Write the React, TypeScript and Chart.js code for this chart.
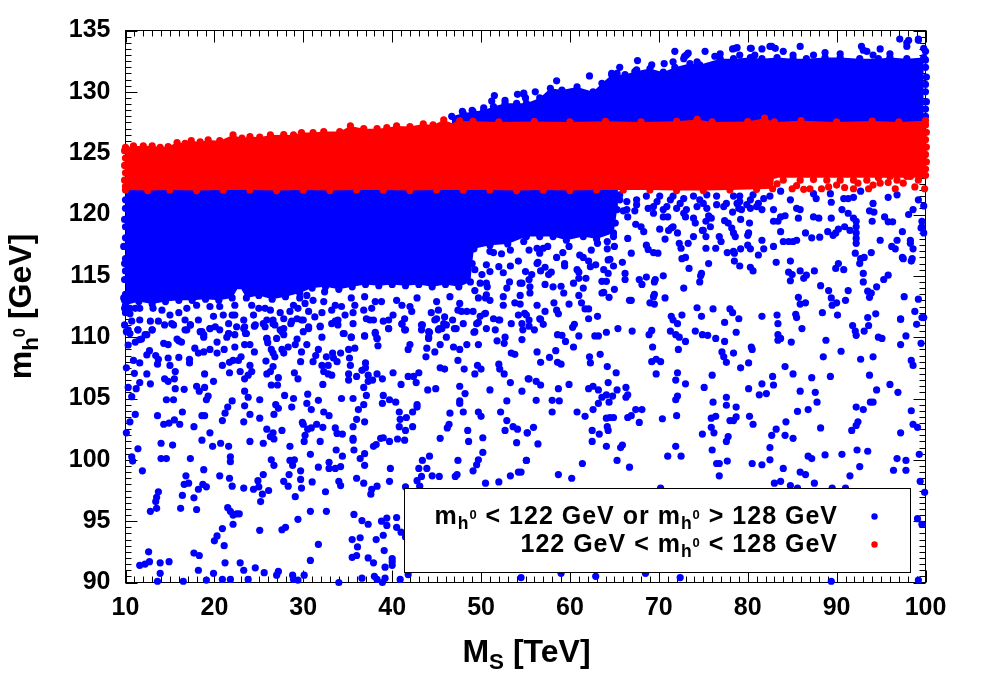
import React, { useEffect, useRef } from "react";
import { Chart, registerables } from "chart.js";

Chart.register(...registerables);

type P = [number, number];
type Seg = [string, "n" | "sub" | "sup"];

const xRange: P = [10, 100];
const yRange: P = [90, 135];

const xAxisLabel: Seg[] = [["M", "n"], ["S", "sub"], [" [TeV]", "n"]];
const yAxisLabel: Seg[] = [["m", "n"], ["h", "sub"], ["0", "sup"], [" [GeV]", "n"]];
const legendBlue: Seg[] = [["m", "n"], ["h", "sub"], ["0", "sup"], [" < 122 GeV or m", "n"], ["h", "sub"], ["0", "sup"], [" > 128 GeV", "n"]];
const legendRed: Seg[] = [["122 GeV < m", "n"], ["h", "sub"], ["0", "sup"], [" < 128 GeV", "n"]];

const blueBottomLeft: P[] = [[10.1,110.45],[10.3,109.36],[10.9,108.1],[10.1,107.5],[11.0,107.05],[11.6,107.9],[12.4,108.55],[12.7,108.9],[13.4,108.5],[13.7,108.2],[14.8,108.3],[15.0,107.7],[15.6,107.2],[14.4,106.6],[14.8,106.4],[15.5,106.6],[13.6,107.8],[12.4,107.0],[11.6,106.3],[12.8,106.2],[10.3,105.9],[11.2,105.8],[10.7,105.15],[14.6,104.9],[15.4,104.9],[15.6,105.8],[16.6,105.75],[18.0,106.0],[18.9,105.9],[18.3,105.6],[19.3,105.2],[19.1,104.9],[16.4,103.9],[13.6,103.6],[11.1,103.7],[10.5,103.1],[10.1,102.2],[11.4,100.9],[10.7,100.25],[10.8,99.9],[11.9,99.1],[14.3,102.9],[14.9,103.0],[15.5,103.25],[16.1,102.9],[17.7,102.7],[18.6,103.6],[18.9,103.6],[20.9,103.2],[21.2,103.8],[21.5,104.3],[22.0,104.8],[19.5,102.2],[18.6,101.6],[14.0,101.35],[15.3,101.2],[14.0,100.1],[14.6,100.1],[17.3,100.1],[19.8,101.1],[20.7,101.35],[21.6,101.1],[21.8,100.25],[21.8,99.85],[18.8,99.2],[16.8,98.7],[16.6,98.0],[17.1,98.1],[16.4,97.1],[17.7,96.9],[16.2,96.05],[18.0,95.95],[13.7,97.4],[13.5,96.95],[13.4,96.6],[13.5,96.05],[12.8,95.8],[18.2,97.6],[18.7,98.0],[19.1,97.8],[20.6,98.7],[21.7,98.5],[22.0,97.85],[23.3,97.7],[24.4,97.6],[24.9,98.3],[25.0,97.8],[25.5,98.8],[26.1,97.5],[25.4,97.2],[25.2,96.6],[21.5,96.1],[21.8,95.8],[22.1,95.5],[22.5,95.6],[22.8,95.6],[22.1,94.75],[20.9,94.4],[20.3,93.8],[20.0,93.4],[21.1,93.0],[17.7,92.4],[18.3,92.2],[12.6,92.5],[12.7,91.7],[12.2,91.5],[11.6,91.4],[13.9,91.6],[14.9,91.7],[18.2,91.0],[13.9,90.75],[13.6,90.1],[16.5,90.1],[19.1,90.2],[19.9,90.75],[20.9,90.25],[21.2,91.6],[21.8,90.25],[22.9,91.6],[23.3,91.0],[23.8,90.25],[24.6,91.2],[25.6,90.8],[27.0,90.6],[27.2,90.9],[28.8,90.6],[28.9,90.25],[29.4,90.2],[30.1,90.6],[30.8,91.8],[31.7,93.1],[30.8,95.8],[32.6,95.8],[29.4,95.15],[27.6,94.3],[28.0,94.5],[25.1,94.25],[34.0,90.0],[35.5,93.5],[36.4,93.65],[35.7,95.55],[36.6,95.05],[37.3,94.75],[38.8,95],[39.4,95.25],[39.4,94.65],[40.5,95.3],[40.5,94.5],[41.0,94.1],[41.5,93.7],[38.2,93.5],[39.0,93.85],[36.1,92.9],[39.1,92.6],[35.5,92.05],[36,92.2],[37.3,92],[37.9,91.6],[39.2,91.25],[40,91.95],[40,91.7],[40,91.4],[36.6,90.35],[38,90.5],[38.3,90.25],[38.9,90],[39.2,90.35],[40.9,90.25],[41.8,90.65]];

const blueMiddleLeft: P[] = [[25.1,104.9],[23.8,105.1],[23.4,105.6],[23.4,104.4],[24.0,103.7],[23.3,103.1],[25.1,103.4],[25.9,102.5],[26.6,102.2],[26.3,101.9],[26.7,101.7],[24,101.5],[25.5,101.35],[27.6,102.4],[28.5,101.1],[30.8,100.45],[26.4,100],[26.7,99.55],[28.5,99.95],[29,100],[28.8,99.55],[28.4,98.8],[29.7,99.1],[29.7,98.4],[27.8,98.25],[28.3,97.85],[29.8,97.7],[29.1,97],[31,98.2],[31.7,99.4],[32.9,99.8],[32.9,99.3],[33.6,99.3],[34.2,99.45],[34,98.25],[34.2,97.9],[32.5,97.4],[36,98.5],[36.8,98.1],[37.7,97.6],[37.6,97.2],[38.3,97.85],[39.7,98.25],[39.8,99.3],[36.9,99.55],[36.9,100.5],[36.4,100.1],[35.7,100.8],[35.6,101.6],[35.6,101.75],[33.7,100.8],[34.4,100.3],[31.9,101.5],[30.1,101.5],[30.2,102],[30.5,102.5],[30.9,102.6],[31.5,102.9],[32.2,102.65],[33.6,102.6],[33.8,102.15],[34.4,102.1],[30,102.9],[29.9,103.05],[32.9,103.6],[32.3,103.9],[30.9,104.1],[30.4,104.6],[28.7,104.3],[28.9,105],[27.9,105.25],[26.9,104.5],[27.2,104.2],[26.7,103.7],[30.5,105.35],[31.7,104.85],[34.3,105],[35.6,105],[37.1,105.25],[36.8,104.5],[36.2,104.1],[36,103.3],[36.9,103.1],[35.6,102.7],[39,105.25],[39.7,104.9],[40.4,104.7],[38.9,104.6],[40.8,103.9],[41.6,103.45],[40.9,103.3],[40.8,102.7],[41.5,102.4],[42.3,102.7],[42.3,103.9],[42.8,104.5],[42.8,104.3],[39,101.8],[38.7,101.75],[38.2,101.25],[37.9,101.1],[39.7,101.5],[40.6,101.7],[41.4,101.6],[44.2,100.3],[43.4,99.95],[43,99.3],[43.9,99.3],[44.5,98.7],[45.3,98.65],[43.3,98.65],[42.8,98.3],[43.1,97.85],[41.5,97.8],[45.4,101.75],[46.4,102.9],[46.2,102.6],[48.5,102.4],[48.6,101.5],[50.2,101.8],[50.2,100.6],[49.7,100],[49.5,99.6],[47.4,99.95],[49.1,99.1],[47.3,98.8],[47.1,98.65],[50.5,98.1],[52,98.2],[53.3,98.7],[54.2,99],[55.1,99.95],[54,101.4],[52.7,102.4],[53.6,102.7],[54.1,102.5],[55.2,102.2],[49.7,103.9],[50,103.55],[52.2,103.9],[52.9,103.2],[46.5,103.8],[48,103.9],[47.6,104.8],[47.6,104.6],[48.2,105.4],[47.6,106],[51.0,105.7],[53.3,106.3],[52.9,104.8],[44.9,105.8],[44,105.7],[55.3,106.6],[52,107.8],[52.1,107.4],[52.6,107],[50,107.4],[49.6,107.7],[49.3,107],[48.1,107.4],[45.9,107.4],[45.4,107.5],[43,107.1],[41.8,106.8],[42.4,106.8],[42.7,106.3],[41,106.15],[40.1,107.1]];

const blueUpperLeft: P[] = [[10.5,111.9],[11.4,110.6],[13,110.6],[11.6,109.8],[11.1,109.6],[14.8,109.4],[14.3,109.5],[16,109.7],[16.3,109.6],[15.2,111.1],[16.7,110.6],[17.3,111],[18.6,110.45],[18.8,110.2],[19.5,110.7],[20.6,110.6],[21.6,110.3],[22.5,110.85],[23.5,110.3],[23.3,110.7],[24.5,110.9],[25.5,111.1],[27.6,110.45],[26.6,111.1],[28.6,111.1],[29.8,111.4],[30.6,110.7],[31.9,110.9],[33.2,111.1],[34.6,110.3],[35.4,110],[36.9,110.1],[38.1,110.4],[38.3,109.9],[38.4,109.3],[39.6,110.7],[41.5,110.6],[41.1,111.1],[43.4,111],[44.2,110.4],[44.1,109.9],[45.3,110.7],[46.1,111],[47.2,110.7],[49.2,110.4],[50.4,111.9],[49.7,111.2],[50.6,110.7],[52,111.4],[51.6,110.6],[52.7,110],[51.8,109.7],[52.6,109.5],[53.4,111.1],[54.6,111.1],[55.4,111.4],[49.7,109.4],[48.4,109.4],[47.6,109],[46.9,109.2],[45.4,109.4],[44.8,108.8],[43.9,109.1],[43.8,108.4],[41.8,109],[42,109.4],[53.4,108.7],[53.8,108.6],[47.4,108.1],[17.8,109.1],[18.2,108.7],[18.8,108.8],[19.5,109],[20.3,109.6],[20.3,108.7],[21.1,109],[22.3,109.2],[23.4,109.4],[24,109.4],[24.5,108.8],[25.9,109.9],[26,109.55],[26.4,109],[26.6,108.7],[26.8,108.4],[27.6,109],[27.8,108.7],[28.3,109.2],[29.1,109.4],[29.3,109.85],[29.8,108.8],[30.4,109.4],[31.1,108],[31.4,108.5],[31.7,109],[32.6,108.4],[33.3,108.7],[33.4,108.3],[33.8,108],[34.2,108.7],[35.1,109],[35.8,109.1],[35.2,108.3],[35.3,107.7],[29.7,108],[32.1,107.7],[32.8,107.7],[37,107.9],[35.1,107],[35.1,106.5],[36,106.8],[36.6,107.3],[37,107.5],[37.3,106.9],[37.8,106.5],[37.3,106.4],[36.8,105.9],[38.9,106.6],[38.3,107],[29,107.1],[29.4,106.6],[27.2,106.7],[26.4,106.1],[27.1,106.1],[23.4,106.6],[23.8,106.9],[24.2,107.2],[24,107.7],[23,108.4],[22.7,108.1],[22.1,108.1],[21.7,107.95],[20.9,107.7],[21.7,107.1],[22.9,107.2],[25.8,108.05],[26.6,107.6],[25.9,107],[26.3,107.2],[32.2,106.15],[32.3,107.2],[32.8,107],[33.2,106.9],[18.9,107],[19.9,106.4],[17.2,107.9],[17.2,108.2],[16,108.35]];

const blueFringeLeft: P[] = [[10.5,112.35],[10.7,111.3],[10.3,110.6],[11.4,110.6],[11.6,111.4],[12.8,111.3],[13,110.6],[12.4,110.2],[14.1,112.2],[13.7,111.3],[14.4,111],[15.4,111],[15,111.8],[16,112],[16.7,111.4],[17.3,111],[16.9,110.6],[18.2,111.4],[18.4,110.45],[18.8,110],[19.5,110.7],[20.1,110.85],[19.9,111.7],[21,111.8],[22,111.8],[22.3,111.8],[21.6,111.1],[21.6,110.3],[22.3,110.2],[21.4,110],[23.3,111.4],[23.4,110.85],[23.6,110.3],[24.6,111],[24.4,111.8],[25,112.35],[25.7,112.35],[25.9,111.4],[26.6,111.4],[26.8,111],[25.7,110.85],[27.4,112],[27.8,111.5],[27.8,110.7],[27.8,110.2],[27.4,110.6],[28.7,111.3],[29.3,111.5],[29.4,112.35],[28.5,112.1],[25.9,109.9],[27,109.9],[15.8,109.85],[11.8,109.85],[12.2,110.2],[11.1,112.35],[11.6,112.35],[13.1,112.35],[16.9,112.35],[18,112.6],[19.5,112.5],[20.6,112.5],[22.3,112.6],[24.2,112.6],[26.3,112.2],[28.9,112.6],[9.8,113.2],[9.9,112.35],[10.5,110.3]];

const blueFringeMid: P[] = [[29.6,113.2],[30.2,112.75],[30.6,112.1],[30,111.4],[30.6,110.85],[30,110.45],[31.3,111.65],[32.1,112],[31.9,110.85],[32.1,110],[31.1,113],[32.3,112.9],[33.2,112.2],[33.6,112.6],[34.3,112.5],[33.9,111.4],[33.6,111.3],[33.9,111],[34.7,111.8],[34.5,110.3],[35.4,110],[35.6,111.1],[35.6,112],[35.8,112.6],[36.8,112.2],[37.1,111.5],[37.5,111.4],[37.9,111.4],[36.9,110.1],[38.1,110.3],[38.3,109.9],[38.1,112.9],[38.8,112.9],[37.7,112.35],[39,111.3],[39.6,111.4],[40.1,111.8],[39.6,110.7],[41.1,111.05],[41.4,111.5],[41.4,110.6],[42.2,112.1],[41.1,112.6],[42,112.5],[43.3,111],[43.3,110.6],[44.1,110.45],[44.1,110],[44.4,112],[45.2,112.2],[45,111.5],[44.8,111.4],[45.9,111.65],[45.8,111.1],[45.6,110.7],[45.2,110.6],[46.1,110],[47,110.7],[46.8,111.4],[47.8,112.1],[48,111.1],[47.4,112.2],[48.4,112.1],[49.3,110.45],[49.5,111.1],[49.7,113.2],[47.6,112.75],[45,112.9],[46.5,113.3],[42.8,113.2],[40.5,113],[36.9,113.3],[35.4,113.2],[32.4,113.7],[30.4,113.4],[49.1,112.1]];

const blueStepGap: P[] = [[51,117],[52.3,116.8],[54.2,116.2],[50.6,115.9],[50.1,115.1],[52,115.75],[53.3,115.8],[51,115.35],[52.5,115.25],[55,115.35],[50.6,114.4],[50.7,114.1],[53.2,114.5],[54.4,114.4],[52.9,114],[50.6,113.45],[50.5,113.2],[51,113],[52.5,113.3],[54.4,113.4],[53.8,112.8],[52.5,112.6],[50.5,111.95],[49.9,111.7],[51.4,111.5],[52.1,111.4],[54.9,111.95],[54.2,111.8],[51.4,116.9],[53.3,117.1],[49.3,115.5],[49.3,113.8],[49.9,114.4]];

const blueUpperRight: P[] = [[65.6,121.2],[66.4,120.4],[67.3,120.3],[66,120.3],[66.5,119.8],[67.4,119.2],[68,119],[68.3,118.6],[66.5,118.05],[66.9,116.85],[65.9,116.1],[65,113.9],[64.4,113.25],[63.8,113.65],[63.6,114.55],[64.1,114.55],[66.2,115.2],[66.2,114.7],[67.8,114.7],[68.1,114.3],[68.6,114.9],[69.5,114.5],[69.6,114.7],[70.5,115],[69.5,113.5],[69.4,113.3],[70.7,113.2],[66.7,113],[66.9,113],[69,112.8],[69.5,112.7],[72.8,114],[74.6,114.5],[74.8,115.2],[74.7,115],[73.4,115.6],[75.6,116],[72.6,116.4],[73,116.5],[69.9,116.85],[69.4,116.9],[68.8,117.15],[68.6,117.5],[70.7,118],[72.3,117.65],[72.5,117.25],[73.3,117.65],[73.9,118.2],[74.9,118.7],[75.3,118.2],[75.8,119],[76.8,118.2],[77,117.8],[75.3,117.25],[76.4,117.25],[77.7,116.9],[78.4,117],[78.5,116.85],[79.2,117.2],[80,117.5],[80.3,117.2],[78.5,116.2],[79.1,115.8],[80.3,115.7],[80.6,115.4],[81.6,117.9],[81.8,117.2],[81.2,116.7],[82.9,117.4],[83.2,116.1],[84.8,116.2],[84.6,115.3],[85,115.1],[84.8,114.6],[85.9,115.4],[86.3,114.8],[86.6,115.05],[87.5,115.4],[89.9,115.6],[90.2,116],[90.8,115.5],[92.6,116],[92.7,116.4],[93.1,116.5],[93.9,116.9],[92.1,116.85],[93,114.5],[93,115.2],[95.8,115.05],[95.3,114.7],[94.5,114.1],[93.5,113.75],[93.9,113.6],[93.7,113.25],[91.3,113.8],[91,113],[89.1,113.8],[89.4,113.2],[90,112.8],[89.5,112.6],[88.2,114.2],[86.5,112.8],[85.9,112.7],[85.7,113.25],[88.4,112],[90.1,111.8],[94.4,111.9],[93.5,111.6],[97.2,111.5],[98.8,112.1],[99.2,113.1],[99.6,111.6],[97.6,113.3],[97.5,116.4],[98.5,116.4],[98.4,116.2],[97.4,116.5],[96.8,117.9],[96.2,117.4],[96.6,117.2],[98.3,117.9],[98.3,117.65],[94.9,117.9],[97.4,118.6],[94,119.45],[95.8,119.4],[96.3,119.4],[95.4,119.8],[92.2,119.45],[92.2,119],[92.2,118.5],[92.2,118.05],[92.2,117.65],[91.5,118.7],[90.9,119],[91.9,119.7],[91.3,120.1],[90.6,120.4],[90.2,118.8],[89.6,118.3],[89.9,118.5],[89,118.6],[89.4,119.7],[88,119.7],[87.4,119.8],[88.1,118.15],[87.2,118.1],[86.5,118.5],[85.5,117.9],[85.1,117.8],[84.6,117.8],[84,117.8],[83.4,119.45],[83.7,119.8],[82.9,119.45],[84.2,119.9],[83.7,118.6],[85.7,119.7],[85.9,120.4],[85.5,120.5],[82.9,120.4],[81.6,120.4],[80.3,120.5],[79.3,120.4],[78.3,120.2],[79,120.5],[81.2,120.9],[80.2,119.3],[80.1,118.5],[80,118.3],[79.2,119.6],[77.8,119.3],[78.2,118.9],[78.4,118.5],[78.6,118.2],[77.4,119.5],[75.6,119.9],[75.9,119.7],[75.3,119.45],[73.9,119.7],[74.1,119.3],[75,118.7],[72.8,120.1],[73,119.8],[71.6,119],[71.4,118.9],[71.1,118.7],[72.1,118.5],[70.1,118.8],[68.8,120.5],[70.5,119.8],[71,119.8],[69.4,120.1],[94.1,120.9],[94.2,120.2],[93.7,120.3],[98.1,120],[98.6,120.4],[99.8,120.7],[99.2,121.2],[96.8,121.6],[95.8,121.4],[92.7,121.9],[91.9,121.4],[91.3,121.3],[90.8,121.3],[89.4,121],[89.3,121.7],[87.7,121.3],[87.4,121.7],[84.8,121.2],[83.7,121.9],[99.6,119.45],[99.5,118.9],[99.8,118.5],[99.6,119],[98.6,117.2],[67.5,121.2],[68.6,121.5],[69.4,120.65],[70.1,121.5],[70.9,120.65],[72.4,120.9],[73.9,121.5],[75,120.9],[76.5,121.5],[77.3,120.65],[78.4,121.5],[80.3,121.2],[81,120.65],[81.8,121.3],[79.9,120.8],[78.8,120.9],[77.6,120.9],[69.8,121.05],[71.3,121.2],[73.1,120.4],[74.3,120.65],[74.6,121.2],[67.5,120.8],[66.4,121.05],[65.6,121.6],[82.5,121.5],[71.6,121.5],[72.8,121.3],[75.4,121.6],[79.1,121.5],[75.4,120.5],[76.5,120.8],[72,120.5],[70.5,120.4],[79.1,121.05],[80.6,121.6]];

const blueMiddleRight: P[] = [[54.8,117.8],[55.4,117.1],[56.3,117.25],[57,117.25],[57.5,117.4],[56.6,116.85],[58.5,116.5],[59.2,116.9],[59.9,117.4],[61.1,116.7],[61.5,116.5],[62.4,117.1],[63.1,117.65],[64.2,117.2],[65,117.4],[64.9,118.2],[64.2,117.8],[56.4,116.1],[56.3,116],[57.2,115.7],[56.7,115.4],[57.9,115.3],[57.6,115.1],[59.4,116],[59.4,115.8],[60.8,115.5],[61,115.3],[62.1,116.2],[62.3,115.75],[62.9,115.9],[64.3,116.3],[64.5,116.35],[63.8,115.5],[64.9,115.8],[64.3,115.2],[55.7,115.1],[55.4,114.7],[54.6,114.4],[55.5,114.1],[55.5,113.6],[57.2,114.3],[58.1,114.1],[59,114.15],[59.3,113.6],[60.4,114.4],[61,114.8],[61.8,114.8],[61.5,114],[63.6,113.6],[61,113.4],[61.3,112.8],[61.7,112.3],[62.1,112.3],[59.9,112.7],[58.2,112.8],[58.5,112.2],[58.7,111.9],[56.3,112.6],[55.1,111.8],[57.2,112.1],[56.6,111.5],[63.1,111.7],[62.1,111.5],[54.4,112.7]];

const blueLowerRight: P[] = [[56.7,111.45],[57,111.05],[55.4,110.9],[56,110.6],[54.7,110.6],[54.6,109.8],[58.6,110.2],[59.1,110.15],[59.5,109.65],[60.4,109.2],[60.5,111.05],[60.3,110.8],[61,110.1],[62.8,110.1],[63.2,110.1],[64.1,110.4],[65.4,110.7],[67,110.5],[68.9,110.2],[69.2,110.55],[69.3,109.2],[69.2,108],[69.7,108.2],[70.2,108],[69.7,107],[71.3,110.5],[71.9,110.2],[72.3,110],[73,109.65],[72.2,109],[71.4,111.7],[71.6,111.4],[72.1,111.1],[72.6,111.8],[74.8,111.7],[74.3,112.4],[76.1,112.3],[77.4,111.2],[78,112.3],[78.3,112],[79,111.5],[74.1,110.5],[74.9,110.2],[75.5,110.15],[76.4,109.9],[77.4,109.65],[78.7,110.4],[77.1,108.8],[77.3,108.4],[77.6,107.95],[78.4,108.7],[79.2,107.5],[80.1,107.9],[80.4,109.2],[80.5,109],[81.6,111.7],[83.3,111.8],[83.4,111.1],[83.4,110.2],[83.7,109.9],[83.4,109.75],[84.9,109.6],[86.1,110.7],[85.4,111.86],[85.5,111.6],[90.5,108.85],[88.8,109.75],[88.5,108.4],[91.8,110.95],[92.1,110.5],[92.2,110.15],[93.1,110.5],[93.6,110.95],[94.7,110],[95.1,109.9],[97.2,111.45],[99,111.05],[99.8,111.6],[97.8,110.1],[97.2,109.4],[99.5,109.5],[94.1,108.4],[92.7,108.2],[93.7,106.9],[94.5,105.7],[96,106.15],[96.9,105.5],[98.4,108.1],[98.6,107.7],[98.4,104],[98.6,102.9],[99.1,102.65],[97.2,102.2],[99.3,100.45],[97.8,99.95],[96.8,100.1],[97.8,99.15],[96.4,99.15],[99.4,98.25],[99.9,97.35],[99.1,95.2],[99.6,94.75],[99.2,90.2],[89.4,90.1],[93.8,104.7],[94.1,104.7],[93,104.1],[92.2,104.3],[92.4,103.1],[92.2,102.8],[91.7,102.4],[92.3,100.8],[93.5,100.7],[92.6,99.45],[91.5,98.7],[90.6,100.45],[88.7,100.4],[86.8,100.3],[87.2,100.1],[85.9,99],[86.5,98.8],[87.5,98.1],[84,99.3],[82.5,100],[82.5,101],[81.6,99.6],[80.5,99.7],[88.2,102.6],[85.1,101.75],[84.2,102],[82.7,102],[83.2,102.5],[84.3,103.1],[85.6,103.95],[86.8,104.1],[87.8,104.7],[87.6,105.5],[85.9,105.6],[87.2,106.7],[89.3,106.8],[85.1,107],[84.2,107.6],[82.8,106.8],[81.6,106.2],[82.9,106.1],[81.3,105.3],[82.1,105.4],[80.1,105.8],[80.2,103.55],[80.6,102.9],[78.7,104.3],[78.7,103.5],[78,103.2],[78.4,103.2],[77.6,104.45],[77.6,105.1],[76.1,104.7],[75.1,105.9],[76,106.9],[71.9,106.5],[72.1,107.1],[73,106.2],[72.1,105.2],[71.9,104.9],[72,103.6],[70.4,103.35],[75.9,102.65],[75.9,103.4],[76.4,103.55],[76.2,102.2],[74.9,102.1],[77.8,101.9],[77.6,101.5],[76,100.8],[71.9,101.1],[71,100.3],[72.5,100.3],[76.5,99.7],[76.8,99.7],[77.7,99.9],[76.8,98.7],[84.8,97.9],[83,98.1],[83.7,98.25],[85.6,97.7],[89.5,97.7],[91,97.7],[54.5,90.4],[59,90.75],[62.9,90.5],[68.5,90.75],[72.4,90.4],[70.2,97.7],[60.2,98.5],[58.7,98.8],[61.4,99.7],[65.3,99.95],[66.7,99.4],[55.1,99.95],[54.5,99],[56.4,101.3],[64.1,101.1],[65.7,101],[65.9,101.2],[62.5,101.5],[63.3,102.1],[62.5,102.4],[64.3,102.4],[64.2,102.7],[67.8,103.05],[67.4,104.1],[68.1,104.1],[66.9,103.6],[66.5,103.45],[64.9,103.45],[64.5,103.45],[64.1,103.4],[61.7,103.55],[60.8,103.9],[58,103.9],[62.6,104.1],[63.2,104.6],[64.4,104.7],[58,104.85],[58.8,104.8],[56.2,104.85],[63.6,105.1],[64.1,105.3],[64.8,105.2],[65.3,105.7],[66.3,105.9],[66.5,105.3],[66.3,105.1],[63.2,105.7],[62.6,106],[62.1,105.8],[58.7,105.8],[59.9,106.15],[64.3,106.3],[65.2,107.1],[64.2,107.6],[62.2,108.4],[62.3,107.9],[63.4,108.6],[57.7,108.35],[58.6,107.95],[59,107.8],[56.7,107.95],[56.3,108.8],[58.4,108.9],[55.4,106.6],[56.2,106.4],[56.7,106.1],[54.6,105.6],[55.2,102.2],[55.9,102.65]];

const blueTopOutliers: P[] = [[97.1,134.3],[98.1,134.2],[97.9,134],[99.2,134.3],[92.8,133.7],[93,133.4],[85.9,133.7],[82.5,133.7],[83.1,133.55],[81.6,133.5],[80.3,133.55],[78.8,133.6],[78.3,133.5],[71.8,133.3],[75.2,133.3],[73.3,133.15],[72.9,132.9],[67.6,132.55],[62.2,131.3],[58.5,130.9],[56.1,130],[54.8,129.8],[65.6,132],[64.7,131.5],[65.3,131.5],[67.5,131.8],[51.5,129.7],[51.2,129.25],[54.1,129.8],[54.8,129.9],[55,129.5],[52.7,129.3],[50.3,128.7],[47.9,128.4],[49,128.5],[73.1,133],[72.8,132.7],[76.9,133.1],[78.6,133.55],[80.4,133.55],[82.7,133.7],[84,133.3],[85.1,133],[87.4,133],[88.7,133.2],[90.4,133.1],[93.4,133.3],[94.9,133.5],[94.1,133],[96,133.1],[97.9,133.7],[99.8,133.55],[99.2,134.2],[69.2,132.2],[70.6,132.3],[71.6,132.45],[74.3,132.45],[76.3,132.9],[79.1,133],[80.8,133]];

const blueEdges: P[] = [[10,121.2],[10,120.5],[9.9,119.6],[10,119],[10,118.1],[9.8,117.4],[10,116.4],[9.9,116],[10,115.4],[9.9,114.7],[10,113.5],[9.9,113],[10,112],[9.9,111],[100,128],[100,128.6],[100.1,129.2],[100,130],[100,130.6],[100.1,131.2],[100,132],[100,132.6],[100,133.3]];

const blueUpperEnvelope: P[] = [[46.7,128],[48,128.25],[49.1,128.39],[50.3,128.5],[51.4,128.8],[52.7,129.07],[54,129.07],[55.1,129.07],[56.6,129.5],[57.8,130.29],[59.1,130.15],[60.8,130.4],[62.6,130],[63.6,130.7],[64.7,131.4],[66.2,131.4],[67.3,131.65],[69,131.9],[70.5,131.6],[71.8,132],[73.5,132.3],[74.6,132.2],[76.9,132.7],[78.4,132.7],[80.3,132.8],[81.6,132.7],[83.3,132.8],[85.1,132.7],[86.6,132.7],[88.7,132.8],[90.4,132.8],[92.6,132.7],[94.7,132.7],[96,132.8],[97.9,132.7],[99.8,132.8]];

const blueLowerEnvelope: P[] = [[10,112.6],[11.5,112.9],[13,112.7],[14.5,112.9],[16,113],[17.5,113],[19,113.1],[20.5,113],[22,113.2],[22.8,114.2],[23.6,113.2],[25,113.4],[26.5,113.1],[28,113.3],[29.6,113.6],[31,114],[32.5,114.1],[34,113.9],[35.5,114.1],[37,114.3],[38.5,114.2],[40,114.3],[41.5,114.2],[43,114.3],[44.5,114.1],[46,114.3],[47.5,114.1],[48.8,114.5],[49,116],[49.2,117.2],[51,117.5],[53,117.6],[55.1,118.2],[56.6,118.2],[58.1,118.2],[59.6,117.9],[61.5,118.2],[63,118],[64.9,118.5],[65.1,119.3],[65.3,120.4],[65.4,121.5]];

const redUpperEnvelope: P[] = [[10,125.48],[10.9,125.59],[12,125.59],[13,125.6],[13.9,125.48],[14.8,125.54],[15.8,125.86],[16.7,125.81],[17.4,126.02],[18.4,125.92],[19.3,126.08],[20.6,126.02],[22.1,126.49],[23.1,126.22],[24,126.35],[25.1,126.3],[26.3,126.49],[27.8,126.51],[28.9,126.49],[29.8,126.68],[31.1,126.68],[32.3,126.76],[34.1,126.76],[35.3,127.22],[36.8,127],[38.3,127],[39.4,127.08],[40.5,127.22],[42,127.17],[43.5,127.38],[44.6,127.3],[45.8,127.71],[47.3,127.3],[47.6,127.63],[49.1,127.6],[52,127.55],[56,127.58],[60,127.55],[64,127.6],[68,127.55],[72,127.6],[74.3,127.75],[76,127.55],[80,127.58],[81.9,127.85],[83,127.55],[86,127.65],[90,127.55],[94,127.62],[97,127.55],[100,127.65]];

const redLowerEnvelope: P[] = [[10,122],[12.5,121.95],[15,122],[18,121.95],[21,122],[24,122],[27,121.95],[30,122],[33,121.95],[36,122],[39,122],[42,121.95],[45,122],[48,122],[51,122],[54,121.95],[57,122],[60,121.95],[63,122],[66,122],[69,122],[72,121.95],[75,121.95],[78,122],[81,122.05],[82.8,122.1],[83,123.2],[100,123.2]];

const redExtras: P[] = [[83.3,122.5],[85,122.1],[85.5,122.35],[86.3,122.05],[87,122.1],[88.3,122.1],[89.1,122.25],[90,122.4],[90.9,122.2],[91.9,122.1],[92.4,122.55],[93.6,122.1],[94.1,122.4],[94.9,122.55],[95.8,122.6],[96.6,122.1],[97.5,122.55],[98.8,122.25],[99.9,122.1],[91.9,122.8],[99.9,123.2],[84,122.8],[85.9,122.8],[87.4,122.85],[88.9,122.8],[90.4,122.8],[93.4,122.8],[94.7,123],[96,123.1],[98.3,123.1],[99.2,122.8],[97.9,123.1],[96.8,122.8],[10,122.3],[9.9,122.8],[10,123.4],[9.9,124],[10,124.6],[9.9,125.2],[100,123.7],[100.1,124.3],[100,124.9],[100.1,125.5],[100,126.1],[100.1,126.7],[100,127.3]];

const allBlueDots: P[] = [...blueBottomLeft, ...blueMiddleLeft, ...blueUpperLeft, ...blueFringeLeft, ...blueFringeMid, ...blueStepGap, ...blueUpperRight, ...blueMiddleRight, ...blueLowerRight, ...blueTopOutliers, ...blueEdges];

const BLUE = "#0000ff";
const RED = "#ff0000";
const DOT = 3.6;
const FONT = '"Liberation Sans", Arial, sans-serif';

function setFont(ctx: CanvasRenderingContext2D, k: Seg[1], size: number) {
  const s = k === "n" ? size : k === "sub" ? size * 0.7 : size * 0.52;
  ctx.font = `bold ${s}px ${FONT}`;
}

function richWidth(ctx: CanvasRenderingContext2D, segs: Seg[], size: number, spacing: number) {
  let w = 0;
  (ctx as any).letterSpacing = `${spacing}px`;
  for (const [t, k] of segs) {
    setFont(ctx, k, size);
    w += ctx.measureText(t).width;
  }
  return w;
}

function drawRich(ctx: CanvasRenderingContext2D, segs: Seg[], x: number, y: number, size: number, spacing: number) {
  let cx = x;
  ctx.fillStyle = "#000";
  ctx.textAlign = "left";
  ctx.textBaseline = "alphabetic";
  (ctx as any).letterSpacing = `${spacing}px`;
  for (const [t, k] of segs) {
    setFont(ctx, k, size);
    const dy = k === "sub" ? size * 0.22 : k === "sup" ? -size * 0.18 : 0;
    ctx.fillText(t, cx, y + dy);
    cx += ctx.measureText(t).width;
  }
  (ctx as any).letterSpacing = "0px";
}

const framePlugin = {
  id: "frame",
  beforeDatasetsDraw(chart: any) {
    const { ctx, chartArea: a, scales } = chart;
    ctx.save();
    ctx.strokeStyle = "#000";
    ctx.lineWidth = 1;
    ctx.strokeRect(a.left, a.top, a.right - a.left, a.bottom - a.top);
    ctx.beginPath();
    for (let v = xRange[0]; v <= xRange[1]; v += 1) {
      const p = Math.round(scales.x.getPixelForValue(v)) + 0.5;
      const len = v % 10 === 0 ? 12 : 6;
      ctx.moveTo(p, a.bottom); ctx.lineTo(p, a.bottom - len);
      ctx.moveTo(p, a.top); ctx.lineTo(p, a.top + len);
    }
    for (let v = yRange[0]; v <= yRange[1]; v += 0.5) {
      const p = Math.round(scales.y.getPixelForValue(v)) + 0.5;
      const len = v % 5 === 0 ? 12 : 6;
      ctx.moveTo(a.left, p); ctx.lineTo(a.left + len, p);
      ctx.moveTo(a.right, p); ctx.lineTo(a.right - len, p);
    }
    ctx.stroke();
    ctx.restore();
  },
  afterDatasetsDraw(chart: any) {
    const { ctx } = chart;
    ctx.save();
    ctx.fillStyle = "#fff";
    ctx.strokeStyle = "#000";
    ctx.lineWidth = 1;
    ctx.fillRect(404.5, 488.5, 506, 84);
    ctx.strokeRect(404.5, 488.5, 506, 84);
    const right = 838;
    drawRich(ctx, legendBlue, right - richWidth(ctx, legendBlue, 25, 1), 523.5, 25, 1);
    drawRich(ctx, legendRed, right - richWidth(ctx, legendRed, 25, 1), 551.5, 25, 1);
    ctx.fillStyle = BLUE;
    ctx.beginPath(); ctx.arc(874.5, 516.5, 3.2, 0, Math.PI * 2); ctx.fill();
    ctx.fillStyle = RED;
    ctx.beginPath(); ctx.arc(874.5, 544.5, 3.2, 0, Math.PI * 2); ctx.fill();

    const xw = richWidth(ctx, xAxisLabel, 32, 0);
    drawRich(ctx, xAxisLabel, 526.5 - xw / 2, 661.5, 32, 0);
    const yw = richWidth(ctx, yAxisLabel, 32, 0);
    ctx.translate(31, 306.5);
    ctx.rotate(-Math.PI / 2);
    drawRich(ctx, yAxisLabel, -yw / 2, 0, 32, 0);
    ctx.restore();
  },
};

const dotDefaults = { pointRadius: DOT, pointBorderWidth: 0, pointHoverRadius: DOT, clip: false as const };

export default function App() {
  const ref = useRef<HTMLCanvasElement>(null);
  useEffect(() => {
    const toXY = (a: P[]) => a.map(([x, y]) => ({ x, y }));
    const chart = new Chart(ref.current!, {
      type: "scatter",
      data: {
        datasets: [
          { label: "122 GeV < mh0 < 128 GeV", data: toXY(redExtras), backgroundColor: RED, ...dotDefaults },
          { label: "red upper edge", data: toXY(redUpperEnvelope), backgroundColor: RED, showLine: true, borderWidth: 0, borderColor: RED, fill: { value: 123 }, ...dotDefaults },
          { label: "red lower edge", data: toXY(redLowerEnvelope), backgroundColor: RED, showLine: true, borderWidth: 0, borderColor: RED, fill: { value: 124 }, ...dotDefaults },
          { label: "mh0 < 122 GeV or mh0 > 128 GeV", data: toXY(allBlueDots), backgroundColor: BLUE, ...dotDefaults },
          { label: "blue upper edge", data: toXY(blueUpperEnvelope), backgroundColor: BLUE, showLine: true, borderWidth: 0, borderColor: BLUE, fill: { value: 127 }, ...dotDefaults },
          { label: "blue lower edge", data: toXY(blueLowerEnvelope), backgroundColor: BLUE, showLine: true, borderWidth: 0, borderColor: BLUE, fill: { value: 122.5 }, ...dotDefaults },
        ] as any,
      },
      options: {
        animation: false,
        responsive: false,
        layout: { padding: { top: 30.5, right: 74.5, left: 0, bottom: 0 } },
        plugins: { legend: { display: false }, tooltip: { enabled: false }, title: { display: false } },
        scales: {
          x: {
            type: "linear", min: xRange[0], max: xRange[1],
            grid: { display: false }, border: { display: false },
            afterFit: (s: any) => { s.height = 117.5; },
            ticks: { stepSize: 10, color: "#000", padding: 3, maxRotation: 0, autoSkip: false, font: { family: FONT, weight: "bold", size: 25 } },
          },
          y: {
            type: "linear", min: yRange[0], max: yRange[1],
            grid: { display: false }, border: { display: false },
            afterFit: (s: any) => { s.width = 125.5; },
            ticks: { stepSize: 5, color: "#000", padding: 7, autoSkip: false, font: { family: FONT, weight: "bold", size: 25 } },
          },
        },
      } as any,
      plugins: [framePlugin],
    });
    return () => chart.destroy();
  }, []);
  return (
    <canvas
      ref={ref}
      width={1000}
      height={700}
      style={{ position: "fixed", left: 0, top: 0, width: 1000, height: 700, background: "#fff" }}
    />
  );
}
